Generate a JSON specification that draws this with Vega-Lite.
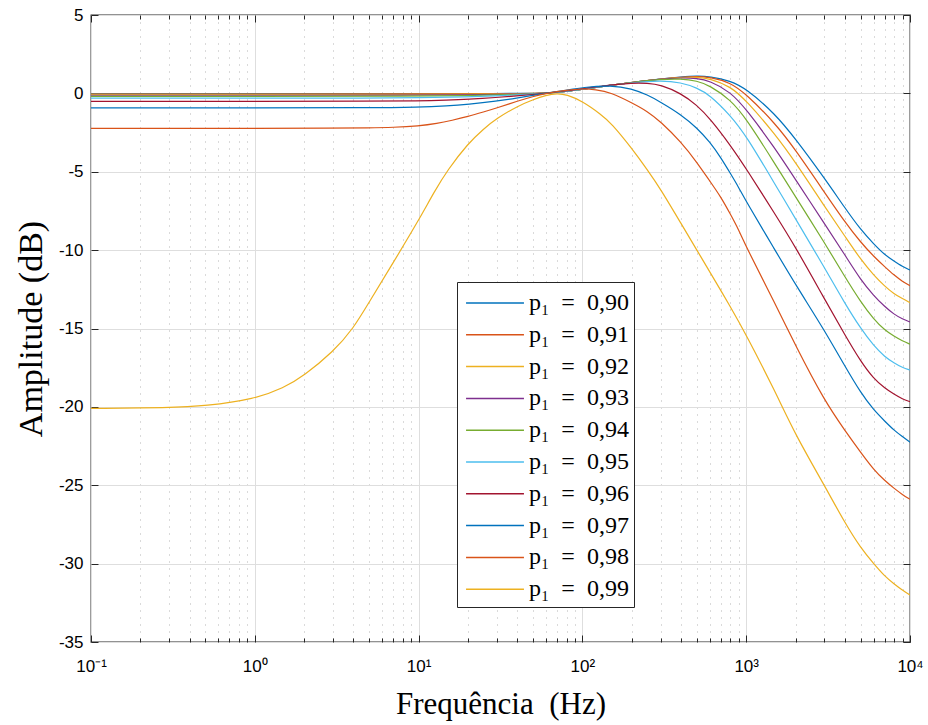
{
  "$schema": "https://vega.github.io/schema/vega-lite/v6.json",
  "width": 819,
  "height": 627,
  "autosize": {"type": "none"},
  "padding": {"left": 91, "top": 15, "right": 18, "bottom": 83},
  "background": "white",
  "config": {
    "view": {"stroke": "#262626", "strokeWidth": 1.3},
    "font": "Liberation Sans"
  },
  "datasets": {
    "curves": [
      {"p":"0,90","f":0.1,"db":-0.02},{"p":"0,90","f":1,"db":-0.02},{"p":"0,90","f":10,"db":-0.02},{"p":"0,90","f":30,"db":-0.01},{"p":"0,90","f":60,"db":0},{"p":"0,90","f":80,"db":0.13},{"p":"0,90","f":100,"db":0.27},{"p":"0,90","f":150,"db":0.52},{"p":"0,90","f":200,"db":0.7},{"p":"0,90","f":300,"db":0.93},{"p":"0,90","f":400,"db":1.05},{"p":"0,90","f":500,"db":1.12},{"p":"0,90","f":600,"db":1.08},{"p":"0,90","f":800,"db":0.8},{"p":"0,90","f":1000,"db":0.3},{"p":"0,90","f":1500,"db":-1.3},{"p":"0,90","f":2000,"db":-2.9},{"p":"0,90","f":3000,"db":-5.4},{"p":"0,90","f":4000,"db":-7.3},{"p":"0,90","f":5000,"db":-8.7},{"p":"0,90","f":6000,"db":-9.6},{"p":"0,90","f":7000,"db":-10.3},{"p":"0,90","f":8000,"db":-10.7},{"p":"0,90","f":9000,"db":-11.05},{"p":"0,90","f":10000,"db":-11.27},

      {"p":"0,91","f":0.1,"db":-0.04},{"p":"0,91","f":1,"db":-0.04},{"p":"0,91","f":10,"db":-0.04},{"p":"0,91","f":30,"db":-0.02},{"p":"0,91","f":60,"db":0},{"p":"0,91","f":80,"db":0.13},{"p":"0,91","f":100,"db":0.27},{"p":"0,91","f":150,"db":0.52},{"p":"0,91","f":200,"db":0.7},{"p":"0,91","f":300,"db":0.92},{"p":"0,91","f":400,"db":1.03},{"p":"0,91","f":500,"db":1.08},{"p":"0,91","f":600,"db":1.03},{"p":"0,91","f":800,"db":0.7},{"p":"0,91","f":1000,"db":-0.05},{"p":"0,91","f":1500,"db":-1.9},{"p":"0,91","f":2000,"db":-3.6},{"p":"0,91","f":3000,"db":-6.3},{"p":"0,91","f":4000,"db":-8.2},{"p":"0,91","f":5000,"db":-9.5},{"p":"0,91","f":6000,"db":-10.4},{"p":"0,91","f":7000,"db":-11.05},{"p":"0,91","f":8000,"db":-11.6},{"p":"0,91","f":9000,"db":-12.0},{"p":"0,91","f":10000,"db":-12.27},

      {"p":"0,92","f":0.1,"db":-0.07},{"p":"0,92","f":1,"db":-0.07},{"p":"0,92","f":10,"db":-0.07},{"p":"0,92","f":20,"db":-0.05},{"p":"0,92","f":40,"db":-0.02},{"p":"0,92","f":60,"db":0},{"p":"0,92","f":80,"db":0.13},{"p":"0,92","f":100,"db":0.27},{"p":"0,92","f":150,"db":0.52},{"p":"0,92","f":200,"db":0.7},{"p":"0,92","f":300,"db":0.92},{"p":"0,92","f":400,"db":1.02},{"p":"0,92","f":500,"db":1.04},{"p":"0,92","f":600,"db":0.95},{"p":"0,92","f":800,"db":0.45},{"p":"0,92","f":1000,"db":-0.45},{"p":"0,92","f":1500,"db":-2.6},{"p":"0,92","f":2000,"db":-4.4},{"p":"0,92","f":3000,"db":-7.2},{"p":"0,92","f":4000,"db":-9.1},{"p":"0,92","f":5000,"db":-10.6},{"p":"0,92","f":6000,"db":-11.6},{"p":"0,92","f":7000,"db":-12.3},{"p":"0,92","f":8000,"db":-12.8},{"p":"0,92","f":9000,"db":-13.1},{"p":"0,92","f":10000,"db":-13.35},

      {"p":"0,93","f":0.1,"db":-0.12},{"p":"0,93","f":1,"db":-0.12},{"p":"0,93","f":10,"db":-0.11},{"p":"0,93","f":20,"db":-0.09},{"p":"0,93","f":30,"db":-0.06},{"p":"0,93","f":40,"db":-0.04},{"p":"0,93","f":50,"db":-0.01},{"p":"0,93","f":60,"db":0},{"p":"0,93","f":80,"db":0.13},{"p":"0,93","f":100,"db":0.27},{"p":"0,93","f":150,"db":0.52},{"p":"0,93","f":200,"db":0.7},{"p":"0,93","f":300,"db":0.92},{"p":"0,93","f":400,"db":1.0},{"p":"0,93","f":500,"db":0.96},{"p":"0,93","f":600,"db":0.8},{"p":"0,93","f":800,"db":0.1},{"p":"0,93","f":1000,"db":-1.0},{"p":"0,93","f":1500,"db":-3.5},{"p":"0,93","f":2000,"db":-5.5},{"p":"0,93","f":3000,"db":-8.3},{"p":"0,93","f":4000,"db":-10.3},{"p":"0,93","f":5000,"db":-11.9},{"p":"0,93","f":6000,"db":-12.9},{"p":"0,93","f":7000,"db":-13.6},{"p":"0,93","f":8000,"db":-14.1},{"p":"0,93","f":9000,"db":-14.4},{"p":"0,93","f":10000,"db":-14.58},

      {"p":"0,94","f":0.1,"db":-0.19},{"p":"0,94","f":1,"db":-0.19},{"p":"0,94","f":10,"db":-0.18},{"p":"0,94","f":20,"db":-0.14},{"p":"0,94","f":30,"db":-0.1},{"p":"0,94","f":40,"db":-0.06},{"p":"0,94","f":50,"db":-0.02},{"p":"0,94","f":60,"db":0},{"p":"0,94","f":80,"db":0.13},{"p":"0,94","f":100,"db":0.27},{"p":"0,94","f":150,"db":0.52},{"p":"0,94","f":200,"db":0.7},{"p":"0,94","f":300,"db":0.9},{"p":"0,94","f":400,"db":0.93},{"p":"0,94","f":500,"db":0.8},{"p":"0,94","f":600,"db":0.5},{"p":"0,94","f":800,"db":-0.4},{"p":"0,94","f":1000,"db":-1.6},{"p":"0,94","f":1500,"db":-4.5},{"p":"0,94","f":2000,"db":-6.6},{"p":"0,94","f":3000,"db":-9.5},{"p":"0,94","f":4000,"db":-11.7},{"p":"0,94","f":5000,"db":-13.3},{"p":"0,94","f":6000,"db":-14.4},{"p":"0,94","f":7000,"db":-15.1},{"p":"0,94","f":8000,"db":-15.5},{"p":"0,94","f":9000,"db":-15.8},{"p":"0,94","f":10000,"db":-16.0},

      {"p":"0,95","f":0.1,"db":-0.3},{"p":"0,95","f":1,"db":-0.3},{"p":"0,95","f":5,"db":-0.3},{"p":"0,95","f":10,"db":-0.28},{"p":"0,95","f":20,"db":-0.22},{"p":"0,95","f":30,"db":-0.16},{"p":"0,95","f":40,"db":-0.09},{"p":"0,95","f":50,"db":-0.04},{"p":"0,95","f":60,"db":0},{"p":"0,95","f":80,"db":0.13},{"p":"0,95","f":100,"db":0.27},{"p":"0,95","f":150,"db":0.52},{"p":"0,95","f":200,"db":0.68},{"p":"0,95","f":300,"db":0.82},{"p":"0,95","f":400,"db":0.7},{"p":"0,95","f":500,"db":0.35},{"p":"0,95","f":600,"db":-0.1},{"p":"0,95","f":800,"db":-1.4},{"p":"0,95","f":1000,"db":-2.7},{"p":"0,95","f":1500,"db":-5.8},{"p":"0,95","f":2000,"db":-8.0},{"p":"0,95","f":3000,"db":-11.1},{"p":"0,95","f":4000,"db":-13.4},{"p":"0,95","f":5000,"db":-15.0},{"p":"0,95","f":6000,"db":-16.1},{"p":"0,95","f":7000,"db":-16.8},{"p":"0,95","f":8000,"db":-17.2},{"p":"0,95","f":9000,"db":-17.5},{"p":"0,95","f":10000,"db":-17.65},

      {"p":"0,96","f":0.1,"db":-0.51},{"p":"0,96","f":1,"db":-0.51},{"p":"0,96","f":5,"db":-0.5},{"p":"0,96","f":10,"db":-0.48},{"p":"0,96","f":15,"db":-0.43},{"p":"0,96","f":20,"db":-0.38},{"p":"0,96","f":30,"db":-0.26},{"p":"0,96","f":40,"db":-0.16},{"p":"0,96","f":50,"db":-0.07},{"p":"0,96","f":60,"db":0},{"p":"0,96","f":80,"db":0.15},{"p":"0,96","f":100,"db":0.3},{"p":"0,96","f":150,"db":0.55},{"p":"0,96","f":200,"db":0.66},{"p":"0,96","f":250,"db":0.65},{"p":"0,96","f":300,"db":0.55},{"p":"0,96","f":400,"db":0.0},{"p":"0,96","f":500,"db":-0.75},{"p":"0,96","f":600,"db":-1.6},{"p":"0,96","f":800,"db":-3.3},{"p":"0,96","f":1000,"db":-4.8},{"p":"0,96","f":1500,"db":-7.7},{"p":"0,96","f":2000,"db":-9.8},{"p":"0,96","f":3000,"db":-13.1},{"p":"0,96","f":4000,"db":-15.4},{"p":"0,96","f":5000,"db":-17.1},{"p":"0,96","f":6000,"db":-18.2},{"p":"0,96","f":7000,"db":-18.8},{"p":"0,96","f":8000,"db":-19.2},{"p":"0,96","f":9000,"db":-19.5},{"p":"0,96","f":10000,"db":-19.67},

      {"p":"0,97","f":0.1,"db":-0.93},{"p":"0,97","f":1,"db":-0.93},{"p":"0,97","f":5,"db":-0.92},{"p":"0,97","f":10,"db":-0.88},{"p":"0,97","f":15,"db":-0.8},{"p":"0,97","f":20,"db":-0.7},{"p":"0,97","f":30,"db":-0.5},{"p":"0,97","f":40,"db":-0.3},{"p":"0,97","f":50,"db":-0.12},{"p":"0,97","f":60,"db":0},{"p":"0,97","f":80,"db":0.2},{"p":"0,97","f":100,"db":0.38},{"p":"0,97","f":150,"db":0.52},{"p":"0,97","f":200,"db":0.3},{"p":"0,97","f":250,"db":-0.1},{"p":"0,97","f":300,"db":-0.55},{"p":"0,97","f":400,"db":-1.35},{"p":"0,97","f":500,"db":-2.2},{"p":"0,97","f":600,"db":-3.1},{"p":"0,97","f":700,"db":-4.1},{"p":"0,97","f":800,"db":-5.1},{"p":"0,97","f":900,"db":-6.0},{"p":"0,97","f":1000,"db":-6.9},{"p":"0,97","f":1500,"db":-10.0},{"p":"0,97","f":2000,"db":-12.2},{"p":"0,97","f":3000,"db":-15.1},{"p":"0,97","f":4000,"db":-17.4},{"p":"0,97","f":5000,"db":-19.1},{"p":"0,97","f":6000,"db":-20.2},{"p":"0,97","f":7000,"db":-20.9},{"p":"0,97","f":8000,"db":-21.5},{"p":"0,97","f":9000,"db":-21.9},{"p":"0,97","f":10000,"db":-22.25},

      {"p":"0,98","f":0.1,"db":-2.23},{"p":"0,98","f":1,"db":-2.23},{"p":"0,98","f":3,"db":-2.22},{"p":"0,98","f":5,"db":-2.2},{"p":"0,98","f":7,"db":-2.17},{"p":"0,98","f":10,"db":-2.08},{"p":"0,98","f":13,"db":-1.92},{"p":"0,98","f":16,"db":-1.72},{"p":"0,98","f":20,"db":-1.48},{"p":"0,98","f":25,"db":-1.18},{"p":"0,98","f":30,"db":-0.93},{"p":"0,98","f":40,"db":-0.5},{"p":"0,98","f":50,"db":-0.2},{"p":"0,98","f":60,"db":0},{"p":"0,98","f":80,"db":0.22},{"p":"0,98","f":100,"db":0.3},{"p":"0,98","f":120,"db":0.25},{"p":"0,98","f":150,"db":0.05},{"p":"0,98","f":200,"db":-0.6},{"p":"0,98","f":250,"db":-1.15},{"p":"0,98","f":300,"db":-1.8},{"p":"0,98","f":400,"db":-3.1},{"p":"0,98","f":500,"db":-4.4},{"p":"0,98","f":600,"db":-5.6},{"p":"0,98","f":700,"db":-6.6},{"p":"0,98","f":800,"db":-7.7},{"p":"0,98","f":900,"db":-8.7},{"p":"0,98","f":1000,"db":-9.8},{"p":"0,98","f":1500,"db":-13.4},{"p":"0,98","f":2000,"db":-16.1},{"p":"0,98","f":3000,"db":-19.6},{"p":"0,98","f":4000,"db":-21.5},{"p":"0,98","f":5000,"db":-22.9},{"p":"0,98","f":6000,"db":-24.0},{"p":"0,98","f":7000,"db":-24.7},{"p":"0,98","f":8000,"db":-25.2},{"p":"0,98","f":9000,"db":-25.6},{"p":"0,98","f":10000,"db":-25.9},

      {"p":"0,99","f":0.1,"db":-20.1},{"p":"0,99","f":0.3,"db":-20.05},{"p":"0,99","f":0.5,"db":-19.95},{"p":"0,99","f":1,"db":-19.5},{"p":"0,99","f":1.5,"db":-18.8},{"p":"0,99","f":2,"db":-18.0},{"p":"0,99","f":3,"db":-16.5},{"p":"0,99","f":4,"db":-15.0},{"p":"0,99","f":5,"db":-13.3},{"p":"0,99","f":7,"db":-10.8},{"p":"0,99","f":10,"db":-8.1},{"p":"0,99","f":12.5,"db":-6.25},{"p":"0,99","f":15,"db":-4.9},{"p":"0,99","f":20,"db":-3.2},{"p":"0,99","f":25,"db":-2.25},{"p":"0,99","f":30,"db":-1.6},{"p":"0,99","f":40,"db":-0.82},{"p":"0,99","f":50,"db":-0.4},{"p":"0,99","f":60,"db":-0.12},{"p":"0,99","f":70,"db":0.0},{"p":"0,99","f":80,"db":-0.07},{"p":"0,99","f":100,"db":-0.5},{"p":"0,99","f":130,"db":-1.35},{"p":"0,99","f":150,"db":-1.9},{"p":"0,99","f":200,"db":-3.5},{"p":"0,99","f":250,"db":-4.9},{"p":"0,99","f":300,"db":-6.1},{"p":"0,99","f":400,"db":-8.3},{"p":"0,99","f":500,"db":-10.0},{"p":"0,99","f":600,"db":-11.4},{"p":"0,99","f":800,"db":-13.6},{"p":"0,99","f":1000,"db":-15.4},{"p":"0,99","f":1500,"db":-19.0},{"p":"0,99","f":2000,"db":-21.8},{"p":"0,99","f":3000,"db":-25.0},{"p":"0,99","f":4000,"db":-27.4},{"p":"0,99","f":5000,"db":-29.0},{"p":"0,99","f":6000,"db":-30.0},{"p":"0,99","f":7000,"db":-30.8},{"p":"0,99","f":8000,"db":-31.3},{"p":"0,99","f":9000,"db":-31.7},{"p":"0,99","f":10000,"db":-32.0}
    ]
  },
  "data": {"name": "curves"},
  "layer": [
    {
      "mark": {"type": "line", "strokeWidth": 1.2, "clip": true, "interpolate": "basis"},
      "encoding": {
        "x": {
          "field": "f", "type": "quantitative",
          "scale": {"type": "log", "domain": [0.1, 10000], "nice": false},
          "axis": {
            "values": [0.1,0.2,0.3,0.4,0.5,0.6,0.7,0.8,0.9,1,2,3,4,5,6,7,8,9,10,20,30,40,50,60,70,80,90,100,200,300,400,500,600,700,800,900,1000,2000,3000,4000,5000,6000,7000,8000,9000,10000],
            "labelExpr": "datum.value == 0.1 ? '10⁻¹' : datum.value == 1 ? '10⁰' : datum.value == 10 ? '10¹' : datum.value == 100 ? '10²' : datum.value == 1000 ? '10³' : datum.value == 10000 ? '10⁴' : ''",
            "labelFont": "Liberation Sans", "labelFontSize": 17, "labelColor": "#000",
            "labelPadding": 23, "labelFlush": false, "labelOverlap": false, "labelBound": false,
            "tickColor": "#262626",
            "tickSize": {"condition": {"test": "indexof([0.1,1,10,100,1000,10000], datum.value) >= 0", "value": -7}, "value": -4},
            "domain": false,
            "grid": true,
            "gridColor": {"condition": {"test": "indexof([0.1,1,10,100,1000,10000], datum.value) >= 0", "value": "#dedede"}, "value": "#b5b5b5"},
            "gridDash": {"condition": {"test": "indexof([0.1,1,10,100,1000,10000], datum.value) >= 0", "value": []}, "value": [1, 6]},
            "title": "Frequência\u00a0\u00a0(Hz)", "titleFont": "Liberation Serif", "titleFontSize": 31, "titleFontWeight": "normal", "titleColor": "#000", "titlePadding": 12
          }
        },
        "y": {
          "field": "db", "type": "quantitative",
          "scale": {"domain": [-35, 5], "nice": false, "zero": false},
          "axis": {
            "values": [-35,-30,-25,-20,-15,-10,-5,0,5],
            "labelExpr": "datum.value < 0 ? '-' + abs(datum.value) : '' + datum.value",
            "labelFont": "Liberation Sans", "labelFontSize": 17, "labelColor": "#000", "labelPadding": 15,
            "tickColor": "#262626", "tickSize": -7,
            "domain": false, "grid": true, "gridColor": "#dedede",
            "title": "Amplitude (dB)", "titleFont": "Liberation Serif", "titleFontSize": 34, "titleFontWeight": "normal", "titleColor": "#000", "titlePadding": 10
          }
        },
        "color": {
          "field": "p", "type": "nominal",
          "scale": {
            "domain": ["0,90","0,91","0,92","0,93","0,94","0,95","0,96","0,97","0,98","0,99"],
            "range": ["#0072BD","#D95319","#EDB120","#7E2F8E","#77AC30","#4DBEEE","#A2142F","#0072BD","#D95319","#EDB120"]
          },
          "legend": {
            "orient": "none", "legendX": 366, "legendY": 267,
            "title": null,
            "labelExpr": "'p₁\u2002=\u2002' + datum.label",
            "labelFont": "Liberation Serif", "labelFontSize": 24, "labelColor": "#000",
            "symbolType": "M-1.93,0H1.93", "symbolSize": 900, "symbolStrokeWidth": 1.5,
            "symbolOffset": 17, "labelOffset": 18, "rowPadding": 3.8, "padding": 5,
            "strokeColor": "#262626", "fillColor": "#ffffff", "cornerRadius": 0, "symbolLimit": 0
          }
        }
      }
    },
    {
      "mark": {"type": "point", "opacity": 0},
      "encoding": {
        "x": {
          "field": "f", "type": "quantitative",
          "scale": {"type": "log", "domain": [0.1, 10000], "nice": false},
          "axis": {
            "orient": "top",
            "values": [0.1,0.2,0.3,0.4,0.5,0.6,0.7,0.8,0.9,1,2,3,4,5,6,7,8,9,10,20,30,40,50,60,70,80,90,100,200,300,400,500,600,700,800,900,1000,2000,3000,4000,5000,6000,7000,8000,9000,10000],
            "labels": false, "grid": false, "domain": false, "title": null,
            "tickColor": "#262626",
            "tickSize": {"condition": {"test": "indexof([0.1,1,10,100,1000,10000], datum.value) >= 0", "value": -7}, "value": -4}
          }
        },
        "y": {
          "field": "db", "type": "quantitative",
          "scale": {"domain": [-35, 5], "nice": false, "zero": false},
          "axis": {
            "orient": "right",
            "values": [-35,-30,-25,-20,-15,-10,-5,0,5],
            "labels": false, "grid": false, "domain": false, "title": null,
            "tickColor": "#262626", "tickSize": -7
          }
        }
      }
    }
  ],
  "resolve": {"scale": {"x": "independent", "y": "independent"}, "axis": {"x": "independent", "y": "independent"}}
}
